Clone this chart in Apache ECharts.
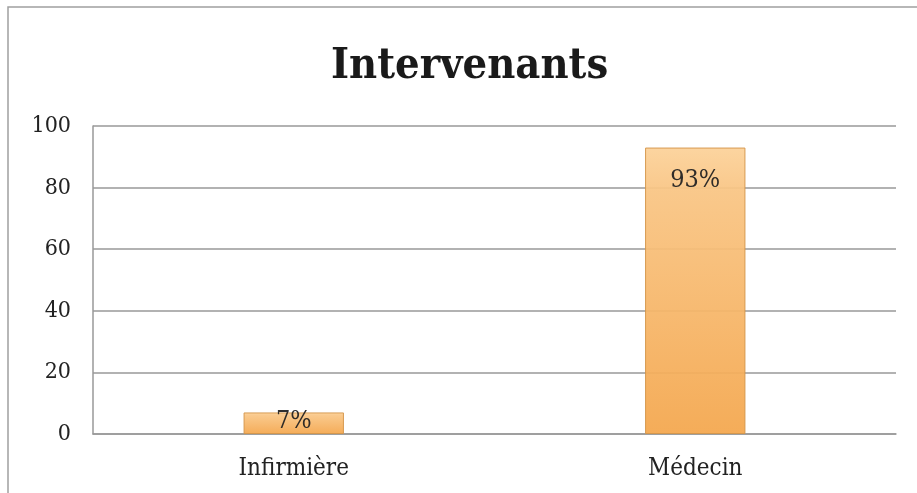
<!DOCTYPE html>
<html>
<head>
<meta charset="utf-8">
<script src="https://cdn.jsdelivr.net/npm/echarts@6/dist/echarts.min.js"></script>
<style>
  html, body { margin: 0; padding: 0; background: #fff; }
  #chart { width: 917px; height: 493px; }
</style>
</head>
<body>
<div id="chart"></div>
<script>
// intervenants, share in %
const categories = ['Infirmière', 'Médecin'];
const values = [7, 93];
const yTicks = { min: 0, max: 100, interval: 20 };

const chart = echarts.init(document.getElementById('chart'));
const serif = '"DejaVu Serif Condensed", "Liberation Serif", serif';

const barFill = new echarts.graphic.LinearGradient(0, 0, 0, 1, [
  {offset: 0, color: '#fcd29a'},
  {offset: 0.15, color: '#f9c584'},
  {offset: 1, color: '#f4a74e'}
]);

const option = {
  backgroundColor: '#fff',
  animation: false,
  title: {
    text: 'Intervenants',
    left: 326,
    top: 40,
    textStyle: {fontFamily: serif, fontSize: 43, fontWeight: 'bold', color: '#1a1a1a'}
  },
  graphic: [{
    type: 'polyline',
    shape: {points: [[8, 493], [8, 7], [917, 7]]},
    style: {stroke: '#a0a0a0', lineWidth: 1.5, fill: null}
  }],
  grid: {left: 93, right: 21, top: 126, bottom: 59},
  xAxis: {
    type: 'category',
    data: categories,
    axisLine: {lineStyle: {color: '#999', width: 1.5}},
    axisTick: {show: false},
    axisLabel: {fontFamily: serif, fontSize: 24, color: '#222', margin: 23}
  },
  yAxis: {
    type: 'value',
    min: yTicks.min,
    max: yTicks.max,
    interval: yTicks.interval,
    axisLine: {show: true, lineStyle: {color: '#999', width: 1.5}},
    axisTick: {show: false},
    splitLine: {lineStyle: {color: '#999', width: 1.5}},
    axisLabel: {fontFamily: serif, fontSize: 23, color: '#222', margin: 22}
  },
  series: [{
    type: 'bar',
    barWidth: '25%',
    data: values.map((v, i) => ({
      value: v,
      label: i === 0 ? {position: 'inside', offset: [0, -2]} : {position: 'insideTop', distance: 20}
    })),
    itemStyle: {color: barFill, borderColor: '#d4964a', borderWidth: 1, opacity: 0.94},
    label: {
      show: true,
      formatter: '{c}%',
      fontFamily: serif,
      fontSize: 25,
      color: '#222'
    }
  }]
};

chart.setOption(option);
</script>
</body>
</html>
